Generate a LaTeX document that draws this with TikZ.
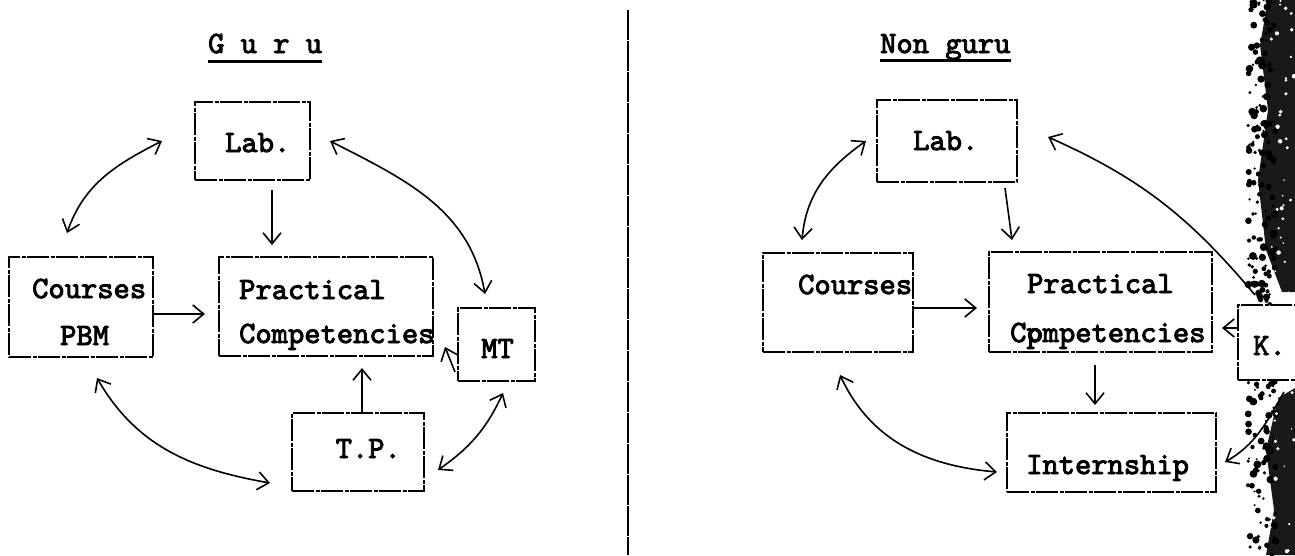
\documentclass[tikz,border=0pt]{standalone}
\usepackage{fontspec}
\newfontfamily\twfont{lmmono10-regular.otf}[FakeBold=3]
\usetikzlibrary{arrows.meta}

\begin{document}
\begin{tikzpicture}[x=1pt,y=-1pt,
  box/.style={draw, line width=1.6pt, dash pattern=on 22pt off 1.5pt on 4pt off 1.5pt, inner sep=0pt, outer sep=0pt},
  lbl/.style={font=\twfont\fontsize{31}{36}\selectfont, inner sep=0pt, anchor=base west},
  link/.style={line width=1.6pt, >={Straight Barb[length=11pt,width=18pt]}}]
\useasboundingbox (0,0) rectangle (1295,555);
\fill[white] (0,0) rectangle (1295,555);

% scan edge
\pgfmathsetseed{11}
\fill[black!90] (1268,0) -- (1260,45) -- (1268,110) -- (1258,180) -- (1266,250) -- (1282,292) -- (1295,292) -- (1295,0) -- cycle;
\fill[black!90] (1295,388) -- (1278,398) -- (1266,450) -- (1274,510) -- (1266,555) -- (1295,555) -- cycle;
\foreach \i in {1,...,260}{
  \pgfmathsetmacro\sx{1248+28*rnd}
  \pgfmathsetmacro\sy{555*rnd}
  \pgfmathsetmacro\sr{1+3*rnd}
  \fill (\sx,\sy) circle[radius=\sr];
}
\foreach \i in {1,...,60}{
  \pgfmathsetmacro\sx{1270+25*rnd}
  \pgfmathsetmacro\sy{555*rnd}
  \pgfmathsetmacro\sr{0.8+1.5*rnd}
  \fill[white] (\sx,\sy) circle[radius=\sr];
}

\draw[line width=1.5pt, dash pattern=on 30pt off 1pt] (628,10) -- (628,555);

% Guru
\node[lbl] (gTitle) at (208,53) {G u r u};
\draw[line width=3pt] ([yshift=-8pt]gTitle.base west) -- ([yshift=-8pt]gTitle.base east);

\node[box, minimum width=115pt, minimum height=78pt] (labL) at (252.5,141) {};
\node[box, minimum width=144pt, minimum height=100pt] (crsL) at (81,307) {};
\node[box, minimum width=214pt, minimum height=99pt] (pracL) at (326,306.5) {};
\node[box, minimum width=77pt, minimum height=73pt] (mt) at (496.5,344.5) {};
\node[box, minimum width=132pt, minimum height=78pt] (tp) at (358,452) {};

\node[lbl] (tLabL) at (225,152) {Lab.};
\node[lbl] (tCrsL) at (32,298) {Courses};
\node[lbl] (tPbm) at (60,345) {PBM};
\node[lbl] (tPracL) at (239,299) {Practical};
\node[lbl] (tCompL) at (239,343) {Competencies};
\node[lbl] (tMt) at (481,358) {MT};
\node[lbl] (tTp) at (335.5,458) {T.P.};

\draw[link,<->] ([xshift=-33pt]labL.west) to[out=207,in=71] ([xshift=-14pt,yshift=24pt]crsL.north);
\draw[link,->] ([xshift=19.5pt,yshift=-10pt]labL.south) -- ([xshift=-54pt,yshift=12pt]pracL.north);
\draw[link,->] ([yshift=-7pt]crsL.east) -- ([xshift=-14pt,yshift=-7.5pt]pracL.west);
\draw[link,<->] ([xshift=20pt]labL.east) to[out=-27,in=100] ([xshift=-11.5pt,yshift=14pt]mt.north);
\draw[link,->] ([xshift=-3pt,yshift=-27.5pt]mt.west) -- ([xshift=12pt,yshift=9pt]pracL.south east);
\draw[link,->] ([xshift=4pt]tp.north) -- ([xshift=36pt,yshift=-12pt]pracL.south);
\draw[link,<->] ([xshift=16pt,yshift=-21pt]crsL.south) to[out=-60,in=170] ([xshift=-22pt,yshift=-31pt]tp.west);
\draw[link,<->] ([xshift=14pt,yshift=-18pt]tp.east) to[out=35,in=-115] ([xshift=6.5pt,yshift=-12pt]mt.south);

% Non guru
\node[lbl] (nTitle) at (880,53) {Non guru};
\draw[line width=3pt] ([yshift=-7pt]nTitle.base west) -- ([yshift=-7pt]nTitle.base east);

\node[box, minimum width=140pt, minimum height=82pt] (labR) at (947,141) {};
\node[box, minimum width=150pt, minimum height=99pt] (crsR) at (838,302.5) {};
\node[box, minimum width=223pt, minimum height=100pt] (pracR) at (1100.5,302) {};
\node[box, minimum width=209pt, minimum height=79pt] (intern) at (1111.5,452.5) {};
\node[box, fill=white, minimum width=62pt, minimum height=75pt] (kbox) at (1269,342.5) {};

\node[lbl] (tLabR) at (913,150) {Lab.};
\node[lbl] (tCrsR) at (798,294) {Courses};
\node[lbl] (tPracR) at (1027,293) {Practical};
\node[lbl] (tCompR) at (1010,342) {C\rlap{o}pmpetencies};
\node[lbl] (tIntern) at (1026,474) {Internship};
\node[lbl] (tK) at (1253,355) {K.};

\draw[link,<->] ([xshift=-11pt]labR.west) to[out=215,in=85] ([xshift=-36pt,yshift=13pt]crsR.north);
\draw[link,->] ([xshift=58pt,yshift=-6pt]labR.south) -- ([xshift=-88.5pt,yshift=12pt]pracR.north);
\draw[link,->] ([yshift=-5.5pt]crsR.east) -- ([xshift=-12pt,yshift=-6pt]pracR.west);
\draw[link,->] ([xshift=-5.5pt,yshift=-13pt]pracR.south) -- ([xshift=-16.5pt,yshift=8pt]intern.north);
\draw[link,<->] ([xshift=2pt,yshift=-23pt]crsR.south) to[out=-65,in=175] ([xshift=-10pt,yshift=-19.5pt]intern.west);
\draw[link,->] ([xshift=-14pt,yshift=10pt]kbox.north) to[out=130,in=-24] ([xshift=31pt,yshift=4pt]labR.east);
\draw[link,->] ([yshift=14.5pt]kbox.west) -- ([xshift=10pt,yshift=-26pt]pracR.east);
\draw[link,->] ([xshift=15pt,yshift=-12pt]kbox.south) to[out=-120,in=30] ([xshift=9pt,yshift=-9.5pt]intern.east);

\end{tikzpicture}
\end{document}
